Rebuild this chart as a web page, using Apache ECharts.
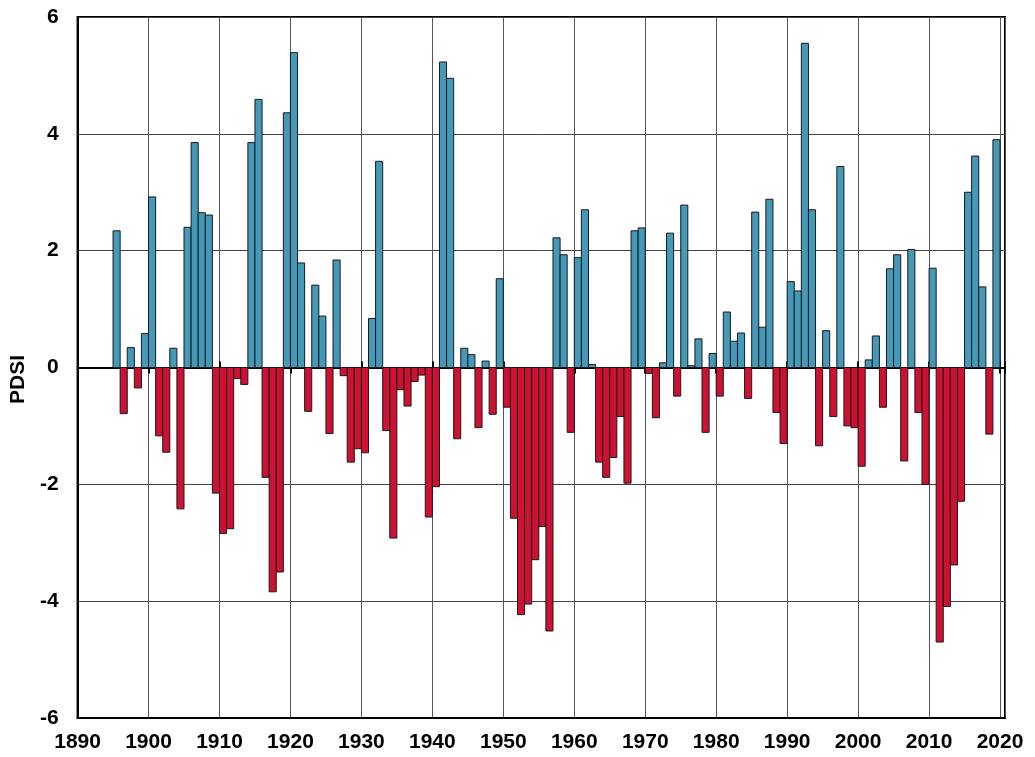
<!DOCTYPE html>
<html>
<head>
<meta charset="utf-8">
<script src="https://cdn.jsdelivr.net/npm/echarts@6/dist/echarts.min.js"></script>
<style>
html,body{margin:0;padding:0;background:#fff;}
#chart{width:1035px;height:757px;}
</style>
</head>
<body>
<div id="chart"></div>
<script>
var startYear = 1895;
var pdsiValues = [
  2.34, -0.79, 0.34, -0.35, 0.58,
  2.92, -1.17, -1.45, 0.33, -2.42, 2.40, 3.85, 2.65, 2.61, -2.15,
  -2.84, -2.76, -0.19, -0.29, 3.85, 4.59, -1.88, -3.84, -3.50, 4.36,
  5.39, 1.79, -0.75, 1.41, 0.88, -1.13, 1.84, -0.14, -1.62, -1.39,
  -1.46, 0.84, 3.53, -1.08, -2.92, -0.38, -0.66, -0.24, -0.13, -2.56,
  -2.04, 5.23, 4.95, -1.22, 0.33, 0.22, -1.03, 0.11, -0.80, 1.52,
  -0.68, -2.58, -4.23, -4.05, -3.29, -2.72, -4.51, 2.22, 1.93, -1.11,
  1.88, 2.70, 0.05, -1.62, -1.88, -1.54, -0.84, -1.98, 2.34, 2.39,
  -0.10, -0.86, 0.08, 2.30, -0.49, 2.78, 0.03, 0.49, -1.11, 0.24,
  -0.49, 0.95, 0.45, 0.59, -0.53, 2.66, 0.69, 2.88, -0.77, -1.30,
  1.47, 1.31, 5.55, 2.70, -1.34, 0.63, -0.84, 3.44, -1.00, -1.03,
  -1.69, 0.13, 0.54, -0.68, 1.69, 1.93, -1.60, 2.02, -0.77, -2.00,
  1.70, -4.70, -4.09, -3.38, -2.29, 3.00, 3.62, 1.38, -1.14, 3.90
];
var xTickValues = [1890, 1900, 1910, 1920, 1930, 1940, 1950, 1960, 1970, 1980, 1990, 2000, 2010, 2020];
var yTickValues = [-6, -4, -2, 0, 2, 4, 6];

var years = pdsiValues.map(function (v, i) { return startYear + i; });
var seriesData = years.map(function (y, i) { return [y, pdsiValues[i]]; });

var BLUE = '#4499B8';
var RED = '#CC1133';
var FONT = 'Liberation Sans, Arial, sans-serif';

var chart = echarts.init(document.getElementById('chart'), null, {renderer: 'canvas'});

function decadeLabel(v) {
  return xTickValues.indexOf(Math.round(v * 1000) / 1000) >= 0 ? String(v) : '';
}

var option = {
  animation: false,
  backgroundColor: '#fff',
  grid: {
    left: 73, right: 30, top: 17, bottom: 39,
    show: true, borderColor: '#000', borderWidth: 2, backgroundColor: 'transparent'
  },
  xAxis: [
    {
      type: 'value', min: 1890, max: 2020.7, interval: 10,
      position: 'bottom',
      axisLine: {show: true, onZero: false, lineStyle: {color: '#000', width: 2}},
      axisTick: {show: false},
      axisLabel: {
        color: '#000', fontFamily: FONT, fontWeight: 'bold', fontSize: 21, margin: 14,
        formatter: decadeLabel, showMaxLabel: false
      },
      splitLine: {show: true, lineStyle: {color: '#555', width: 1}}
    },
    {
      type: 'value', min: 1890, max: 2020.7, interval: 10,
      position: 'bottom',
      axisLine: {show: true, onZero: true, onZeroAxisIndex: 0, lineStyle: {color: '#000', width: 2}},
      axisTick: {show: true, inside: true, length: 6, lineStyle: {color: '#000', width: 2}},
      axisLabel: {show: false},
      splitLine: {show: false}
    },
    {
      type: 'value', min: 1890, max: 2020.7, interval: 10,
      position: 'bottom',
      axisLine: {show: false, onZero: true, onZeroAxisIndex: 0},
      axisTick: {show: true, inside: false, length: 6, lineStyle: {color: '#000', width: 2}},
      axisLabel: {show: false},
      splitLine: {show: false}
    }
  ],
  yAxis: {
    type: 'value', min: -6, max: 6, interval: 2,
    name: 'PDSI', nameLocation: 'middle', nameGap: 45,
    nameTextStyle: {color: '#000', fontFamily: FONT, fontWeight: 'bold', fontSize: 21, padding: [0, 0, 0, -24]},
    axisLine: {show: true, lineStyle: {color: '#000', width: 2}},
    axisTick: {show: false},
    axisLabel: {color: '#000', fontFamily: FONT, fontWeight: 'bold', fontSize: 21, margin: 19},
    splitLine: {show: true, lineStyle: {color: '#444', width: 1}}
  },
  series: [{
    type: 'custom',
    xAxisIndex: 0,
    yAxisIndex: 0,
    data: seriesData,
    z: 3,
    renderItem: function (params, api) {
      var yr = api.value(0);
      var v = api.value(1);
      var p0 = api.coord([yr, 0]);
      var p1 = api.coord([yr + 1, v]);
      return {
        type: 'rect',
        shape: {
          x: p0[0],
          y: Math.min(p0[1], p1[1]),
          width: p1[0] - p0[0],
          height: Math.abs(p1[1] - p0[1])
        },
        style: {fill: v >= 0 ? BLUE : RED, stroke: '#1a1a1a', lineWidth: 1}
      };
    }
  }]
};
chart.setOption(option);
</script>
</body>
</html>
